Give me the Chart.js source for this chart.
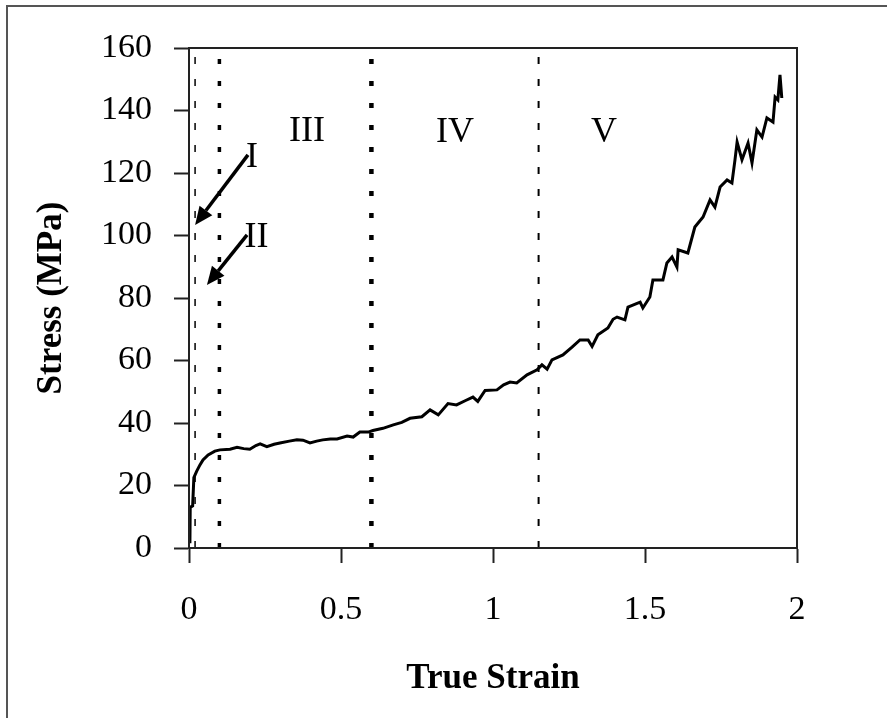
<!DOCTYPE html>
<html>
<head>
<meta charset="utf-8">
<script src="https://cdn.jsdelivr.net/npm/chart.js@4.4.1/dist/chart.umd.min.js"></script>
<style>
    html, body { margin: 0; padding: 0; background: #fff; overflow: hidden; }
    .frame { position: absolute; left: 6px; top: 5px; width: 1000px; height: 1000px; border-left: 2px solid #555; border-top: 2px solid #555; }
    #stressChart { position: absolute; left: 0; top: 0; }
</style>
</head>
<body>
<div class="frame"></div>
<canvas id="stressChart" width="887" height="718"></canvas>
<script>
const strain = [0.003, 0.004, 0.012, 0.016, 0.025, 0.036, 0.046, 0.063, 0.085, 0.102, 0.135, 0.158, 0.18, 0.2, 0.22, 0.234, 0.256, 0.28, 0.299, 0.33, 0.355, 0.375, 0.398, 0.42, 0.44, 0.465, 0.487, 0.52, 0.54, 0.562, 0.59, 0.605, 0.638, 0.672, 0.7, 0.727, 0.766, 0.793, 0.82, 0.852, 0.88, 0.91, 0.934, 0.95, 0.974, 1.013, 1.035, 1.056, 1.078, 1.112, 1.145, 1.161, 1.178, 1.194, 1.23, 1.26, 1.286, 1.313, 1.326, 1.345, 1.378, 1.395, 1.408, 1.434, 1.444, 1.484, 1.493, 1.516, 1.526, 1.559, 1.572, 1.589, 1.605, 1.609, 1.641, 1.664, 1.691, 1.714, 1.73, 1.747, 1.77, 1.786, 1.796, 1.803, 1.819, 1.839, 1.852, 1.868, 1.885, 1.901, 1.921, 1.928, 1.937, 1.944, 1.95];
const stress = [1.5, 13, 13.5, 22.5, 24.5, 26.6, 28.2, 29.8, 31.0, 31.4, 31.6, 32.2, 31.8, 31.6, 32.8, 33.3, 32.4, 33.2, 33.6, 34.2, 34.6, 34.5, 33.6, 34.2, 34.6, 34.9, 34.9, 35.8, 35.5, 37.1, 37.1, 37.6, 38.3, 39.4, 40.2, 41.5, 42, 44.2, 42.6, 46.2, 45.8, 47.2, 48.3, 46.9, 50.4, 50.6, 52.2, 53.1, 52.8, 55.4, 57, 58.6, 57.2, 60.2, 61.8, 64.3, 66.6, 66.6, 64.5, 68.2, 70.4, 73.2, 73.9, 73, 77.1, 78.7, 76.8, 80.3, 85.8, 85.8, 91.2, 93.1, 89.9, 95.4, 94.4, 102.7, 105.9, 111.4, 109.1, 115.5, 117.8, 116.8, 124.2, 129.9, 124.2, 129.6, 123.2, 133.8, 131.5, 137.6, 136.3, 144.3, 143.4, 151.4, 144];

// Limites das regiões (linhas verticais)
const boundaryStrain = [0.02, 0.1, 0.6, 1.15];
const boundaryWidth = [1.5, 3.5, 4.5, 2];
const boundaryDash = [[7, 15], [5, 17], [5, 17], [7, 15]];

// Rótulos das regiões
const regionLabels = ['III', 'IV', 'V', 'I', 'II'];
const regionLabelX = [0.388, 0.875, 1.365, 0.207, 0.222];
const regionLabelY = [133.4, 133.1, 133.1, 125, 99.5];

// Setas (início -> ponta)
const arrowFrom = [[0.194, 125.8], [0.191, 100.2]];
const arrowTo = [[0.020, 103.4], [0.059, 84.2]];

const xTickLabels = ['0', '0.5', '1', '1.5', '2'];
const yTickLabels = ['0', '20', '40', '60', '80', '100', '120', '140', '160'];

const serif = "'Liberation Serif', 'Times New Roman', serif";

const boundaryDatasets = boundaryStrain.map((s, i) => ({
    data: [{ x: s, y: 0 }, { x: s, y: 160 }],
    showLine: true,
    borderColor: '#000',
    borderWidth: boundaryWidth[i],
    borderDash: boundaryDash[i],
    pointRadius: 0,
    borderCapStyle: 'butt'
}));

// Desenha moldura, setas e rótulos usando as escalas do gráfico
const annotationsPlugin = {
    id: 'annotations',
    afterDatasetsDraw(chart) {
        const { ctx, chartArea, scales: { x, y } } = chart;
        ctx.save();
        ctx.strokeStyle = '#222';
        ctx.lineWidth = 2;
        ctx.strokeRect(chartArea.left, chartArea.top, chartArea.right - chartArea.left, chartArea.bottom - chartArea.top);

        ctx.fillStyle = '#000';
        ctx.strokeStyle = '#000';
        arrowFrom.forEach((from, i) => {
            const x0 = x.getPixelForValue(from[0]), y0 = y.getPixelForValue(from[1]);
            const x1 = x.getPixelForValue(arrowTo[i][0]), y1 = y.getPixelForValue(arrowTo[i][1]);
            const ang = Math.atan2(y1 - y0, x1 - x0);
            const head = 18, half = 8;
            const bx = x1 - head * Math.cos(ang), by = y1 - head * Math.sin(ang);
            ctx.lineWidth = 3.5;
            ctx.beginPath();
            ctx.moveTo(x0, y0);
            ctx.lineTo(bx, by);
            ctx.stroke();
            ctx.beginPath();
            ctx.moveTo(x1, y1);
            ctx.lineTo(bx + half * Math.sin(ang), by - half * Math.cos(ang));
            ctx.lineTo(bx - half * Math.sin(ang), by + half * Math.cos(ang));
            ctx.closePath();
            ctx.fill();
        });

        ctx.font = `36px ${serif}`;
        ctx.textAlign = 'center';
        ctx.textBaseline = 'middle';
        regionLabels.forEach((t, i) => {
            ctx.fillText(t, x.getPixelForValue(regionLabelX[i]), y.getPixelForValue(regionLabelY[i]));
        });
        ctx.restore();
    }
};

new Chart(document.getElementById('stressChart'), {
    type: 'scatter',
    data: {
        datasets: [{
            data: strain.map((s, i) => ({ x: s, y: stress[i] })),
            showLine: true,
            borderColor: '#000',
            borderWidth: 3,
            pointRadius: 0,
            tension: 0
        }, ...boundaryDatasets]
    },
    options: {
        responsive: false,
        animation: false,
        events: [],
        layout: { padding: { top: 48, right: 90, left: 0, bottom: 0 } },
        plugins: { legend: { display: false }, tooltip: { enabled: false } },
        scales: {
            x: {
                type: 'linear',
                min: 0,
                max: 2,
                afterFit: (scale) => { scale.height = 170; },
                ticks: {
                    stepSize: 0.5,
                    padding: 27,
                    color: '#000',
                    font: { family: serif, size: 34 },
                    callback: (v, i) => xTickLabels[i]
                },
                grid: { drawOnChartArea: false, tickLength: 15, tickColor: '#222', tickWidth: 2 },
                border: { color: '#222', width: 2 },
                title: {
                    display: true,
                    text: 'True Strain',
                    color: '#000',
                    font: { family: serif, size: 35, weight: 'bold' },
                    padding: { top: 0, bottom: 18 }
                }
            },
            y: {
                min: 0,
                max: 160,
                afterFit: (scale) => { scale.width = 189; },
                ticks: {
                    stepSize: 20,
                    padding: 22,
                    color: '#000',
                    font: { family: serif, size: 34 },
                    callback: (v, i) => yTickLabels[i]
                },
                grid: { drawOnChartArea: false, tickLength: 15, tickColor: '#222', tickWidth: 2 },
                border: { color: '#222', width: 2 },
                title: {
                    display: true,
                    text: 'Stress (MPa)',
                    color: '#000',
                    font: { family: serif, size: 35, weight: 'bold' },
                    padding: { top: 31, bottom: 0 }
                }
            }
        }
    },
    plugins: [annotationsPlugin]
});
</script>
</body>
</html>
